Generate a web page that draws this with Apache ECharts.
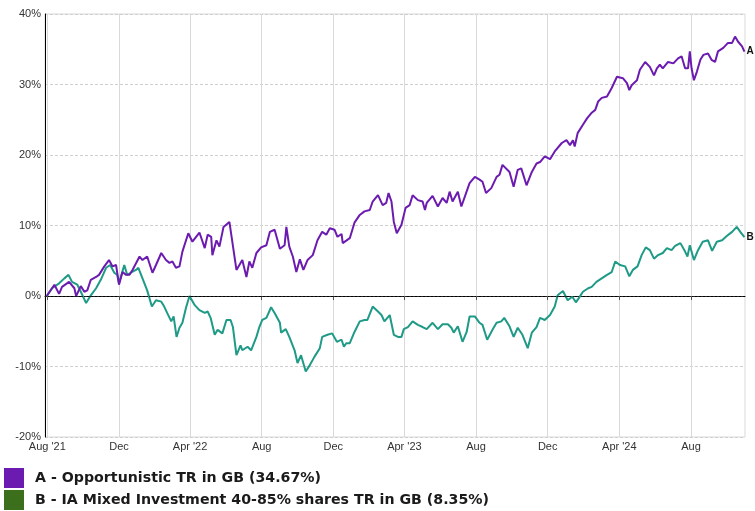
<!DOCTYPE html>
<html><head><meta charset="utf-8">
<script src="https://cdn.jsdelivr.net/npm/echarts@6/dist/echarts.min.js"></script>
<style>html,body{margin:0;padding:0;background:#fff}#c{width:755px;height:511px}</style>
</head><body><div id="c"></div>
<script>
const nameA = 'A - Opportunistic TR in GB (34.67%)';
const nameB = 'B - IA Mixed Investment 40-85% shares TR in GB (8.35%)';
const tickDates = ['2021-08-01','2021-12-01','2022-04-01','2022-08-01','2022-12-01','2023-04-01','2023-08-01','2023-12-01','2024-04-01','2024-08-01'];
const tickLabels = ["Aug '21","Dec","Apr '22","Aug","Dec","Apr '23","Aug","Dec","Apr '24","Aug"];
const yTicks = [-20,-10,0,10,20,30,40];

const datesA = ['2021-07-31','2021-08-13','2021-08-21','2021-08-26','2021-09-07','2021-09-16','2021-09-19','2021-09-27','2021-10-03','2021-10-08',
'2021-10-14','2021-10-23','2021-10-28','2021-11-06','2021-11-14','2021-11-20','2021-11-26','2021-12-01','2021-12-07','2021-12-13',
'2021-12-19','2021-12-24','2022-01-05','2022-01-10','2022-01-18','2022-01-27','2022-02-02','2022-02-11','2022-02-19','2022-02-25',
'2022-03-02','2022-03-08','2022-03-14','2022-03-19','2022-03-29','2022-04-05','2022-04-17','2022-04-26','2022-05-01','2022-05-07',
'2022-05-09','2022-05-16','2022-05-21','2022-05-28','2022-06-07','2022-06-19','2022-06-29','2022-07-06','2022-07-11','2022-07-16',
'2022-07-23','2022-07-31','2022-08-09','2022-08-15','2022-08-23','2022-09-01','2022-09-09','2022-09-12','2022-09-17','2022-09-23',
'2022-09-29','2022-10-05','2022-10-11','2022-10-18','2022-10-27','2022-11-04','2022-11-12','2022-11-19','2022-11-25','2022-12-03',
'2022-12-08','2022-12-15','2022-12-17','2022-12-29','2023-01-06','2023-01-15','2023-01-23','2023-02-01','2023-02-06','2023-02-15',
'2023-02-23','2023-03-01','2023-03-05','2023-03-10','2023-03-14','2023-03-19','2023-03-27','2023-04-03','2023-04-10','2023-04-15',
'2023-04-24','2023-05-02','2023-05-06','2023-05-09','2023-05-19','2023-05-28','2023-06-05','2023-06-12','2023-06-17','2023-06-22',
'2023-07-01','2023-07-07','2023-07-15','2023-07-21','2023-07-30','2023-08-07','2023-08-12','2023-08-18','2023-08-27','2023-09-05',
'2023-09-10','2023-09-15','2023-09-27','2023-10-04','2023-10-11','2023-10-17','2023-10-26','2023-11-04','2023-11-12','2023-11-18',
'2023-11-26','2023-12-05','2023-12-13','2023-12-25','2024-01-02','2024-01-08','2024-01-13','2024-01-16','2024-01-21','2024-01-30',
'2024-02-06','2024-02-14','2024-02-20','2024-02-25','2024-03-02','2024-03-11','2024-03-19','2024-03-28','2024-04-07','2024-04-14',
'2024-04-18','2024-04-22','2024-05-01','2024-05-06','2024-05-15','2024-05-23','2024-05-30','2024-06-04','2024-06-09','2024-06-14',
'2024-06-23','2024-07-02','2024-07-10','2024-07-16','2024-07-22','2024-07-27','2024-07-30','2024-08-02','2024-08-06','2024-08-11',
'2024-08-17','2024-08-22','2024-08-30','2024-09-05','2024-09-11','2024-09-16','2024-09-25','2024-10-03','2024-10-10','2024-10-15',
'2024-10-20','2024-10-27','2024-10-31'];
const valuesA = [0,1.6,0.3,1.3,2.0,1.1,0.0,1.4,0.6,0.8,
2.3,2.7,3.0,4.2,5.1,4.2,4.4,1.6,3.4,3.0,
3.0,3.7,5.6,5.1,5.6,3.3,4.4,6.1,5.1,4.7,
4.9,4.0,4.2,6.3,8.9,7.7,9.0,6.8,8.7,8.4,
5.8,7.9,7.0,9.8,10.5,3.7,5.1,2.7,4.9,4.0,
6.1,6.9,7.2,9.1,9.4,6.7,7.2,9.8,7.0,5.6,
3.4,5.2,3.7,5.1,5.8,7.9,9.1,8.7,9.6,9.4,
8.4,8.8,7.5,8.2,10.4,11.5,12.0,12.2,13.4,14.3,
12.9,13.2,14.6,13.4,10.5,8.9,10.1,12.5,12.9,14.3,
13.6,13.4,12.2,13.2,14.2,12.7,13.9,13.2,14.8,13.4,
14.8,12.7,14.6,16.0,16.9,16.5,16.2,14.6,15.3,16.9,
17.2,18.6,17.6,15.5,17.9,18.1,15.7,17.6,18.8,19.0,
19.8,19.4,20.5,21.7,22.1,21.4,22.1,21.2,23.1,24.3,
25.2,26.0,26.4,27.6,28.1,28.3,29.5,31.1,30.9,30.2,
29.2,29.9,30.6,32.1,33.2,32.5,31.3,32.3,32.8,32.3,
33.2,33.0,33.7,34.0,32.3,32.3,34.7,32.3,30.6,31.8,
33.5,34.2,34.4,33.5,33.2,34.7,35.2,35.9,35.9,36.8,
36.1,35.4,34.67];

const datesB = ['2021-07-31','2021-08-09','2021-08-21','2021-08-30','2021-09-06','2021-09-12','2021-09-21','2021-09-27','2021-10-06','2021-10-14',
'2021-10-23','2021-10-31','2021-11-09','2021-11-16','2021-11-23','2021-11-28','2021-12-01','2021-12-10','2021-12-15','2021-12-21',
'2021-12-30','2022-01-03','2022-01-10','2022-01-18','2022-01-26','2022-02-02','2022-02-11','2022-02-16','2022-02-21','2022-02-28',
'2022-03-04','2022-03-09','2022-03-14','2022-03-19','2022-03-25','2022-03-31','2022-04-09','2022-04-17','2022-04-26','2022-05-01',
'2022-05-06','2022-05-13','2022-05-18','2022-05-26','2022-06-02','2022-06-09','2022-06-13','2022-06-19','2022-06-26','2022-06-29',
'2022-07-08','2022-07-14','2022-07-23','2022-07-28','2022-08-02','2022-08-09','2022-08-17','2022-08-23','2022-09-01','2022-09-03',
'2022-09-11','2022-09-17','2022-09-26','2022-10-01','2022-10-07','2022-10-15','2022-10-22','2022-10-30','2022-11-08','2022-11-12',
'2022-11-21','2022-11-29','2022-12-07','2022-12-15','2022-12-19','2022-12-23','2022-12-29','2023-01-06','2023-01-15','2023-01-23',
'2023-01-28','2023-02-06','2023-02-15','2023-02-21','2023-02-26','2023-03-07','2023-03-14','2023-03-21','2023-03-27','2023-03-31',
'2023-04-07','2023-04-15','2023-04-24','2023-05-02','2023-05-09','2023-05-19','2023-05-28','2023-06-05','2023-06-14','2023-06-20',
'2023-06-24','2023-07-01','2023-07-09','2023-07-16','2023-07-21','2023-07-30','2023-08-07','2023-08-12','2023-08-20','2023-08-29',
'2023-09-05','2023-09-13','2023-09-18','2023-09-27','2023-10-04','2023-10-11','2023-10-19','2023-10-28','2023-11-04','2023-11-12',
'2023-11-18','2023-11-26','2023-12-05','2023-12-13','2023-12-18','2023-12-27','2024-01-04','2024-01-12','2024-01-18','2024-01-23',
'2024-01-30','2024-02-08','2024-02-14','2024-02-22','2024-03-02','2024-03-11','2024-03-19','2024-03-25','2024-04-02','2024-04-11',
'2024-04-18','2024-04-24','2024-05-02','2024-05-09','2024-05-16','2024-05-23','2024-05-30','2024-06-06','2024-06-14','2024-06-21',
'2024-06-29','2024-07-05','2024-07-14','2024-07-22','2024-07-26','2024-07-30','2024-08-06','2024-08-13','2024-08-21','2024-08-30',
'2024-09-06','2024-09-14','2024-09-23','2024-10-01','2024-10-10','2024-10-18','2024-10-24','2024-10-31'];
const valuesB = [0,1.1,1.8,2.5,3.0,2.0,1.6,0.6,-1.0,0.1,
1.1,2.3,4.0,4.4,3.3,3.0,1.8,4.4,3.0,3.3,
3.7,4.0,2.5,0.8,-1.5,-0.6,-0.8,-1.5,-2.4,-3.6,
-2.9,-5.8,-4.5,-3.8,-1.7,0.0,-1.3,-2.0,-2.4,-2.2,
-3.1,-5.5,-4.8,-5.3,-3.4,-3.4,-4.4,-8.4,-7.0,-7.7,
-7.2,-7.7,-5.8,-4.4,-3.4,-3.1,-1.6,-2.4,-3.8,-5.2,
-4.7,-5.8,-7.7,-9.5,-8.4,-10.7,-9.8,-8.6,-7.4,-5.8,
-5.5,-5.3,-6.5,-6.2,-7.2,-6.7,-6.7,-5.1,-3.6,-3.4,
-3.4,-1.5,-2.2,-2.7,-3.6,-2.7,-5.5,-5.8,-5.8,-4.7,
-4.4,-3.6,-4.1,-4.4,-4.7,-3.8,-4.7,-4.0,-4.0,-4.5,
-5.2,-4.3,-6.5,-5.1,-2.9,-2.9,-3.8,-4.1,-6.2,-4.8,
-3.8,-3.6,-3.1,-4.3,-5.8,-4.5,-5.5,-7.4,-5.2,-4.4,
-3.1,-3.4,-2.7,-1.5,0.1,0.7,-0.6,-0.1,-0.9,-0.3,
0.6,1.1,1.3,2.0,2.5,3.0,3.4,4.9,4.4,4.2,
2.8,3.7,4.2,5.8,6.9,6.5,5.3,5.8,6.1,6.8,
6.5,7.1,7.5,6.3,5.6,7.2,5.1,6.5,7.7,7.9,
6.4,7.7,7.9,8.5,9.1,9.8,9.1,8.35];

function ts(s){ const p = s.split('-'); return Date.UTC(+p[0], +p[1]-1, +p[2]); }
const tickTs = tickDates.map(ts);
const labelMap = {}; tickTs.forEach((t,i)=>{ labelMap[t] = tickLabels[i]; });
const dataA = datesA.map((d,i)=>[ts(d), valuesA[i]]);
const dataB = datesB.map((d,i)=>[ts(d), valuesB[i]]);

const chart = echarts.init(document.getElementById('c'), null, {renderer:'canvas'});
chart.setOption({
  animation: false,
  backgroundColor: '#fff',
  grid: { left: 45, right: 10, top: 14, bottom: 74, show: true, borderColor: '#d9d9d9', borderWidth: 1, containLabel: false },
  xAxis: {
    type: 'value',
    min: ts('2021-07-28'), max: ts('2024-11-01'),
    axisLine: { show: true, lineStyle: { color: '#000', width: 1 } },
    axisTick: { show: true, customValues: tickTs, length: 4, lineStyle: { color: '#555' } },
    axisLabel: { customValues: tickTs, formatter: v => labelMap[v] || '', color: '#333', fontSize: 11, fontFamily: 'Liberation Sans, Arial, sans-serif', margin: 4, hideOverlap: false },
    splitLine: { show: true, lineStyle: { color: '#d9d9d9', width: 1 } }
  },
  yAxis: {
    type: 'value', min: yTicks[0], max: yTicks[yTicks.length-1], interval: 10,
    axisLine: { show: true, lineStyle: { color: '#000', width: 1 } },
    axisTick: { show: false },
    axisLabel: { formatter: '{value}%', color: '#333', fontSize: 11, fontFamily: 'Liberation Sans, Arial, sans-serif', margin: 4 },
    splitLine: { show: true, lineStyle: { color: '#cfcfcf', type: [3, 2], width: 1 } }
  },
  legend: {
    orient: 'vertical', left: 4, top: 468, padding: 0, itemWidth: 20, itemHeight: 20, itemGap: 2, icon: 'rect',
    textStyle: { fontSize: 14.2, fontWeight: 600, color: '#1a1a1a', fontFamily: 'DejaVu Sans, sans-serif', padding: [0,0,0,6] },
    data: [ { name: nameA, itemStyle: { color: '#6c1bb0' } }, { name: nameB, itemStyle: { color: '#3b6f1b' } } ],
    selectedMode: false
  },
  series: [
    { name: nameB, type: 'line', data: dataB, showSymbol: false, symbol: 'none', color: '#1e9a86',
      lineStyle: { width: 2, color: '#1e9a86' },
      endLabel: { show: true, formatter: 'B', color: '#111', fontWeight: 'bold', fontSize: 10, distance: 2, fontFamily: 'Liberation Sans, Arial, sans-serif' },
      markLine: { silent: true, symbol: 'none', label: { show: false }, lineStyle: { color: '#222', type: [2, 2], width: 1 }, data: [ { yAxis: 0 } ] }
    },
    { name: nameA, type: 'line', data: dataA, showSymbol: false, symbol: 'none', color: '#6c1bb0',
      lineStyle: { width: 2, color: '#6c1bb0' },
      endLabel: { show: true, formatter: 'A', color: '#111', fontWeight: 'bold', fontSize: 10, distance: 2, fontFamily: 'Liberation Sans, Arial, sans-serif' }
    }
  ]
});
</script></body></html>
